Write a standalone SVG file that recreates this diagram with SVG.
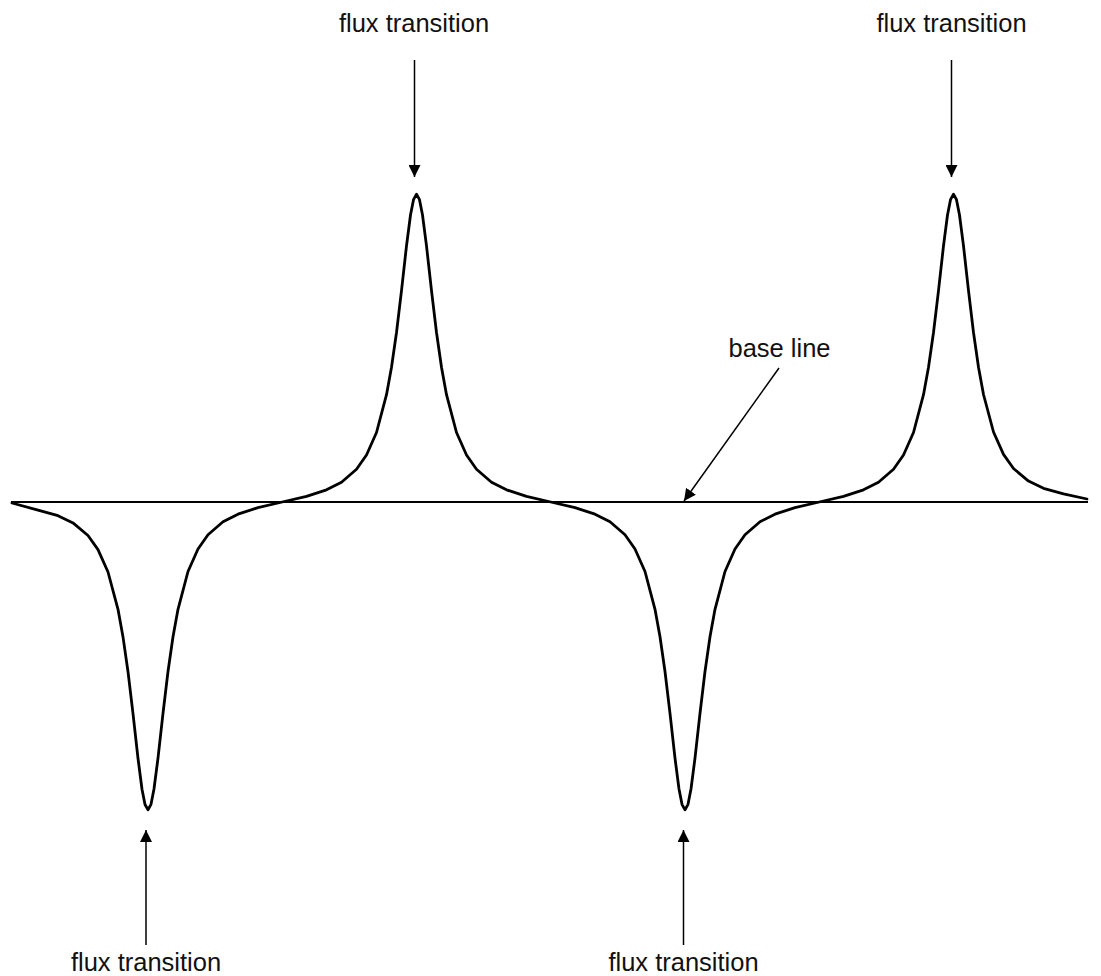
<svg xmlns="http://www.w3.org/2000/svg" width="1101" height="976" viewBox="0 0 1101 976">
<style>
.lbl{font-family:"Liberation Sans",Arial,sans-serif;font-size:25.5px;fill:#111;text-anchor:middle}
.arr{stroke:#000;stroke-width:1.5;fill:none;marker-end:url(#ah)}
.wave{stroke:#000;stroke-width:2.8;fill:none;stroke-linejoin:round;stroke-linecap:round}
.base{stroke:#000;stroke-width:2.2;fill:none}
</style>
<defs>
<marker id="ah" viewBox="0 0 12 12" refX="12" refY="6" markerWidth="12" markerHeight="12" markerUnits="userSpaceOnUse" orient="auto">
<path d="M0,0 L12,6 L0,12 z" fill="#000"/>
</marker>
</defs>
<rect width="1101" height="976" fill="#fff"/>
<g id="baseline">
<line class="base" x1="11" y1="502" x2="1088" y2="502"/>
</g>
<g id="waveform">
<path class="wave" d="M12,503 L38,510.1 L58,515.7 L73,522.9 L88,535.5 L98,549.6 L108,572 L118,609.3 L123,636.9 L128,671.7 L133,713.6 L138,758.3 L142,789.2 L145,804.5 L148,809.8 L151,804.3 L154,789 L158,758.1 L163,713.4 L168,671.5 L173,636.7 L178,609.3 L188,571.5 L198,549 L208,534.7 L223,521.8 L238,514.2 L258,507.6 L282.25,502 L306.5,496.4 L326.5,489.8 L341.5,482.2 L356.5,469.3 L366.5,455 L376.5,432.5 L386.5,394.7 L391.5,367.3 L396.5,332.5 L401.5,290.6 L406.5,245.9 L410.5,215 L413.5,199.7 L416.5,194.2 L419.5,199.7 L422.5,215 L426.5,245.9 L431.5,290.6 L436.5,332.5 L441.5,367.3 L446.5,394.7 L456.5,432.5 L466.5,455 L476.5,469.3 L491.5,482.2 L506.5,489.8 L526.5,496.4 L550.75,502 L575,507.6 L595,514.2 L610,521.8 L625,534.7 L635,549 L645,571.5 L655,609.3 L660,636.7 L665,671.5 L670,713.4 L675,758.1 L679,789 L682,804.3 L685,809.8 L688,804.3 L691,789 L695,758.1 L700,713.4 L705,671.5 L710,636.7 L715,609.3 L725,571.5 L735,549 L745,534.7 L760,521.8 L775,514.2 L795,507.6 L819.25,502 L843.5,496.4 L863.5,489.8 L878.5,482.2 L893.5,469.3 L903.5,455 L913.5,432.5 L923.5,394.7 L928.5,367.3 L933.5,332.5 L938.5,290.6 L943.5,245.9 L947.5,215 L950.5,199.7 L953.5,194.2 L956.5,199.7 L959.5,215 L963.5,245.9 L968.5,290.6 L973.5,332.5 L978.5,367.3 L983.5,394.5 L993.5,432 L1003.5,454.4 L1013.5,468.5 L1028.5,481.1 L1043.5,488.3 L1063.5,493.9 L1087,499"/>
</g>
<g id="label-top-left"><text class="lbl" x="414" y="32">flux transition</text></g>
<g id="label-top-right"><text class="lbl" x="951.5" y="32">flux transition</text></g>
<g id="label-base"><text class="lbl" x="779.5" y="357">base line</text></g>
<g id="label-bottom-left"><text class="lbl" x="146" y="971">flux transition</text></g>
<g id="label-bottom-right"><text class="lbl" x="683.5" y="971">flux transition</text></g>
<g id="connectors">
<line class="arr" x1="414.5" y1="60" x2="414.5" y2="177"/>
<line class="arr" x1="951.5" y1="60" x2="951.5" y2="177"/>
<line class="arr" x1="146" y1="945" x2="146" y2="830"/>
<line class="arr" x1="683.5" y1="945" x2="683.5" y2="830"/>
<line class="arr" x1="779" y1="368" x2="684" y2="501"/>
</g>
</svg>
